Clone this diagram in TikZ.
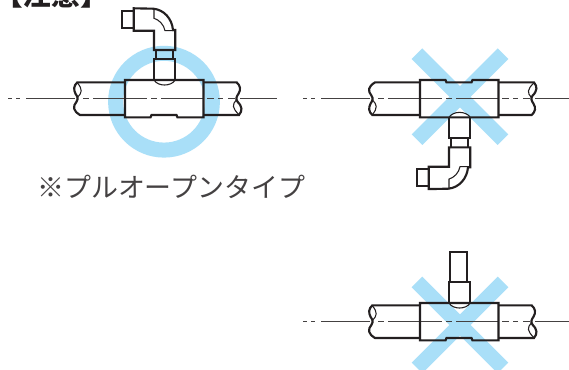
\documentclass[tikz,border=0pt]{standalone}
\usepackage{fontspec}
\newfontfamily\jpfont{Noto Sans CJK JP}
\definecolor{ringblue}{HTML}{A9DFF8}
\definecolor{inkdark}{HTML}{231F20}
\tikzset{
    outline/.style={draw=inkdark, line width=1.6pt, line join=miter},
    fineline/.style={draw=inkdark, line width=.8pt},
    centreline/.style={draw=inkdark!85, line width=.8pt},
    warnbar/.style={draw=ringblue, line width=11.25pt},
}
% tee body, two pipes and centre line; origin is the middle of the tee
\newcommand{\teepipe}{
    % Centre line
    \draw[centreline] (-156, 0) -- (-152, 0) (-148, 0) -- (-144, 0)
        (-138, 0) -- (-89, 0) (-81, 0) -- (-75, 0) (-71, 0) -- (-17, 0)
        (-13, 0) -- (-7, 0) (-3, 0) -- (39, 0) (43, 0) -- (50, 0)
        (54, 0) -- (59, 0) (64, 0) -- (71, 0) (76, 0) -- (113, 0);
    % Body
    \draw[outline] (-39, -18.7) -- (39.5, -18.7) -- (39.5, 18.7) -- (13.5, 18.7)
        -- (12.5, 16.3) -- (-12.5, 16.3) -- (-13.5, 18.7) -- (-39, 18.7) -- cycle;
    % Left pipe
    \draw[outline] (-39, -16.3) -- (-86.7, -16.3) .. controls (-90.5, -13) and (-90.5, -9) .. (-88.5, -5)
        .. controls (-86.5, -2) and (-85.5, 0) .. (-87.5, 3)
        .. controls (-91.5, 8) and (-91, 12) .. (-84, 16.3) -- (-39, 16.3);
    \draw[fineline] (-86.7, -16) .. controls (-81, -9) and (-82, -6) .. (-86.7, -1);
    % Right pipe
    \draw[outline] (39.5, -16.3) -- (72.7, -16.3) .. controls (76.5, -13) and (77, -9) .. (74.5, -5)
        .. controls (72.5, -2) and (71.5, 0) .. (73.5, 3)
        .. controls (78.5, 8) and (78.5, 12) .. (75, 16.3) -- (39.5, 16.3);
    \draw[fineline] (75, 16) .. controls (68, 9) and (68, 6) .. (72.5, 1);
}
% branch socket on top of the tee
\newcommand{\teesocket}{
    \draw[outline] (-10, -18.7) -- (-10, -39.7) -- (11.3, -39.7) -- (11.3, -18.7);
    \draw[fineline] (-10, -18.7) .. controls (-6, -12) and (7, -12) .. (11.3, -18.7);
}
% neck and elbow with its coupling
\newcommand{\teeelbow}{
    \draw[outline] (-8, -39.7) -- (-8, -48.7) (9, -39.7) -- (9, -48.7);
    \draw[outline] (-10, -48.7) -- (11.3, -48.7) -- (11.3, -68.7) -- (9, -68.7)
        .. controls (8, -80) and (0, -89) .. (-10.7, -90) -- (-30.3, -90.4)
        -- (-30.3, -68) -- (-10, -68) -- cycle;
    \draw[outline] (-30.3, -87.7) -- (-42.3, -87.7) -- (-42.3, -70.4) -- (-30.3, -70.4);
    \draw[fineline] (-10, -90) -- (-10, -80.4) .. controls (-5, -79) and (0, -74) .. (1, -68)
        -- (11.3, -68);
}

\begin{document}
\begin{tikzpicture}
    [x=.75pt, y=-.75pt]
    \useasboundingbox[clip] (0, 0) rectangle (569, 370);
    \fill[white] (0, 0) rectangle (569, 370);

    % Ring
    \draw[warnbar] (164, 101.7) circle (48.4);
    % Crosses
    \foreach \cx / \cy in {460/96.7, 460/325} {
        \draw[warnbar] (\cx-43, \cy-43) -- (\cx+43, \cy+43);
        \draw[warnbar] (\cx+43, \cy-43) -- (\cx-43, \cy+43);
    }

    % Correct branch, pointing up
    \begin{scope}[shift={(164, 98.7)}]
        \teepipe \teesocket \teeelbow
    \end{scope}
    % Branch pointing down
    \begin{scope}[shift={(459, 98.7)}, yscale=-1]
        \teepipe \teesocket \teeelbow
    \end{scope}
    % Stub only
    \begin{scope}[shift={(459, 321.7)}]
        \teepipe \teesocket
        \draw[outline] (-9, -39.7) -- (-9, -70) -- (8.3, -70) -- (8.3, -39.7);
    \end{scope}

    % Texts
    \node[font=\jpfont\bfseries\fontsize{21.5}{21.5}\selectfont, text=inkdark, anchor=west, inner sep=0pt]
        (heading) at (-6, -5) {【注意】};
    \node[font=\jpfont\fontsize{20.2}{20.2}\selectfont, text=inkdark!85, anchor=west, inner sep=0pt]
        (note) at (37, 187) {※プルオープンタイプ};
\end{tikzpicture}
\end{document}
